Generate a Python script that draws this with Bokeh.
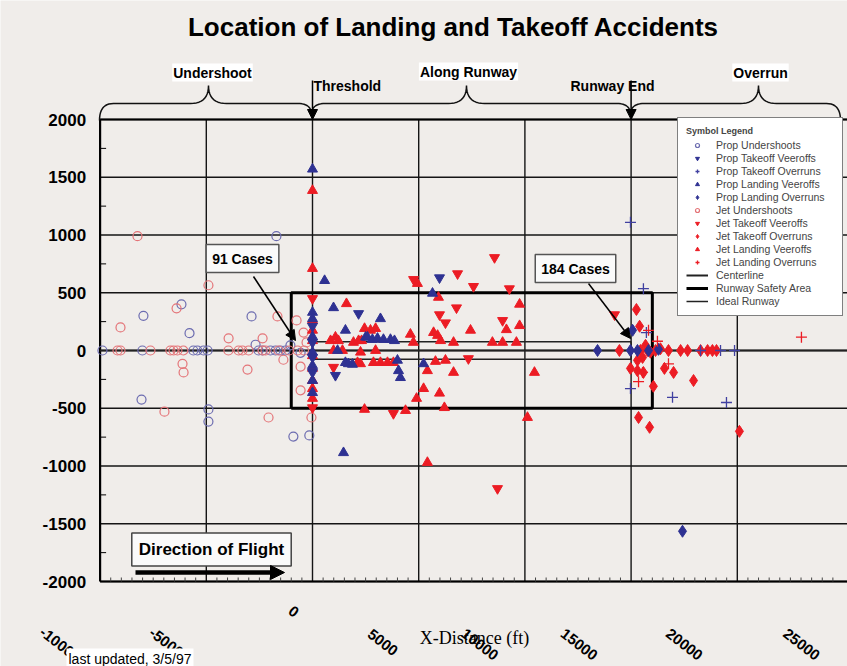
import numpy as np
from bokeh.plotting import figure
from bokeh.models import (Range1d, Label, Arrow, NormalHead, Legend, LegendItem, ColumnDataSource)
from bokeh.core.properties import value
from bokeh.embed import file_html
from bokeh.resources import INLINE

# ---------------- data (feet) ----------------
prop_under_x = [-1700, -7960, -6170, -5790, -2870, -2680, -8050, -4900, -4900, -900, -150, -560, -1040,
                -9890, -8010, -5610, -5420, -5130, -4940, -2540, -2350, -1980, -1740, -1510, -1270]
prop_under_y = [990, 300, 400, 150, 295, 50, -425, -510, -615, -745, -735, -20, 45,
                0, 0, 0, 0, 0, 0, 0, 0, 0, 0, 0, 0]

jet_under_x = [-8240, -4900, -9040, -6400, -3950, -2350, -6120, -6070, -3060, -6970, -2070, -1650, -1370,
               -750, -420, -560, -560, -50, -280,
               -9180, -9040, -7630, -6690, -6540, -6360, -6080, -3960, -3480, -3300, -3010, -2350, -2210,
               -1600, -1100, -700, -400]
jet_under_y = [990, 565, 200, 365, 105, 105, -115, -190, -165, -530, -580, 295, -80,
               260, 155, -140, -345, -580, 70,
               0, 0, 0, 0, 0, 0, 0, 0, 0, 0, 0, 0, 0, 0, 0, 0, 0]

prop_to_veer_x = [5980, 2170, 1080, 0, 0, 0, 0]
prop_to_veer_y = [630, 320, -215, 210, 70, -60, -190]

prop_land_veer_x = [0, 570, 990, 1550, 3200, 2500, 2590, 2820, 3060, 3340, 3670, 3860, 1180, 1550, 1690, 1880,
                    4000, 4050, 4140, 5230, 5650, 1460, 0, 0, 0, 0, 0, 0, 0]
prop_land_veer_y = [1570, 605, 370, 175, 275, 115, 115, 95, 105, 95, 95, 85, 0, -105, -115, -120,
                    -85, -175, -235, -115, 495, -885, 330, 275, 120, -15, -130, -260, -365]

prop_land_over_x = [13420, 14970, 15300, 15820, 16290, 17420, 15070]
prop_land_over_y = [0, 0, 0, 0, 10, -1565, 175]

prop_to_over_x = [14970, 15580, 14970, 16950, 19490, 18270, 19210, 19870, 15720]
prop_to_over_y = [1110, 535, -330, -405, -450, 0, 0, 0, 155]

jet_land_veer_x = [0, 0, 0, 0, 0, 0, 0, 0, 0, 0, 1600, 2450, 2730, 2970, 850, 1080, 1220, 1930, 2170, 2310,
                   4610, 4750, 2260, 2970, 2870, 3200, 3530, 3810, 990, 1410, 2120, 2260, 5700, 5890, 6030,
                   7440, 6640, 8470, 8950, 9600, 9130, 9750, 9750, 5930, 4940, 5790, 6260, 5410, 6640,
                   5230, 4900, 5980, 6210, 2450, 4380, 10450, 10120, 5410]
jet_land_veer_y = [1385, 710, 260, 175, 85, -45, -155, -260, -330, -415, 405, 190, 175, 190, 85, 115, 85, 70, 85, 85,
                   140, 70, -15, 0, -105, -105, -105, -105, 0, 0, -105, -115, 155, 130, 85,
                   175, 70, 70, 70, 70, 180, 215, 400, 460, 580, -95, -85, -175, -190,
                   -330, -415, -370, -495, -510, -520, -190, -580, -970]

jet_to_veer_x = [8570, 6830, 4760, 7580, 9270, 6780, 5980, 6260, 8950, 7340, 3810, 8710, 0, 0, 990, 14220]
jet_to_veer_y = [805, 665, 615, 555, 535, 370, 310, 240, 260, -70, -545, -1195, 450, -495, -145, 310]

jet_to_over_x = [15250, 15400, 14450, 15440, 15770, 16150, 16760, 17330, 17660, 18270, 18600, 18830, 19020,
                 15300, 15540, 14970, 15300, 15580, 16570, 17000, 17940, 16050, 15350, 15870, 20100,
                 15680, 15910, 16380]
jet_to_over_y = [355, 210, 0, 0, 0, 0, 0, 0, 0, 0, 0, 0, 0,
                 -85, -60, -155, -175, -190, -155, -190, -260, -310, -580, -665, -700,
                 45, -15, 15]

jet_land_over_x = [23020, 16240, 16760, 15350, 15540, 15820]
jet_land_over_y = [115, 80, -115, -270, -190, 175]

safety_x = [-1000, 16000]
safety_y = [-500, 500]
runway_x = [0, 15000]
runway_y = [-75, 75]

x_ticks = [-10000, -5000, 0, 5000, 10000, 15000, 20000, 25000]
x_tick_labels = ["-10000", "-5000", "0", "5000", "10000", "15000", "20000", "25000"]
y_ticks = [-2000, -1500, -1000, -500, 0, 500, 1000, 1500, 2000]
y_tick_labels = ["-2000", "-1500", "-1000", "-500", "0", "500", "1000", "1500", "2000"]

# label placement (pixels) of the slanted x tick labels, as scanned
x_label_dx = [-40, -40, -19, -36, -45, -52, -53, -42]
x_label_dy = [2, 0, -31, 0, 2, 2, 2, 2]

# ---------------- geometry ----------------
BG = "#F0EDEA"
BLUE = "#2E3192"
RED = "#EC1C24"
FONT = "Liberation Sans"
XMIN, XMAX, YMIN, YMAX = -10000, 25000, -2000, 2000
W, H = 847, 666
FL, PX5000, FT, FB = 99.6, 106.2, 119, 581   # plot area in canvas pixels


def X(px):
    return XMIN + (px - FL) * 5000.0 / PX5000


def Y(py):
    return YMAX - (py - FT) * (YMAX - YMIN) / (FB - FT)


p = figure(width=W, height=H, output_backend="svg", toolbar_location=None,
           x_range=Range1d(X(0), X(W)), y_range=Range1d(Y(H), Y(0)),
           x_axis_location=None, y_axis_location=None, min_border=0)
p.background_fill_color = BG
p.border_fill_color = BG
p.outline_line_color = None
p.grid.visible = False

XEND = X(W)

# grid lines and frame
gx = [t for t in x_ticks if XMIN < t < XMAX]
p.segment(x0=gx, y0=[YMIN] * len(gx), x1=gx, y1=[YMAX] * len(gx), line_color="#151515", line_width=1.4)
p.segment(x0=[XMIN] * len(y_ticks), y0=y_ticks, x1=[XEND] * len(y_ticks), y1=y_ticks,
          line_color="#151515", line_width=1.4)
p.segment(x0=[XMIN, XMIN, XMIN], y0=[YMIN, YMIN, YMAX], x1=[XMIN, XEND, XEND], y1=[YMAX, YMIN, YMAX],
          line_color="black", line_width=2.2)

# minor ticks
ymin_t = [v for v in range(YMIN + 250, YMAX, 500)]
p.segment(x0=[XMIN] * len(ymin_t), y0=ymin_t, x1=[X(FL + 6)] * len(ymin_t), y1=ymin_t,
          line_color="black", line_width=1)
xmin_t = [v for v in range(XMIN + 500, 25000, 500) if v % 5000 != 0]
p.segment(x0=xmin_t, y0=[YMIN] * len(xmin_t), x1=xmin_t, y1=[Y(FB - 4)] * len(xmin_t),
          line_color="#444444", line_width=1)

# tick labels
p.text(x=[XMIN] * len(y_ticks), y=y_ticks, text=y_tick_labels, x_offset=-14,
       text_font=value(FONT), text_font_size="17px", text_font_style="bold",
       text_align="right", text_baseline="middle", text_color="black")
xl_src = ColumnDataSource(dict(x=x_ticks, y=[Y(642)] * len(x_ticks), text=x_tick_labels,
                               dx=x_label_dx, dy=x_label_dy))
p.text(x="x", y="y", text="text", x_offset="dx", y_offset="dy", angle=-0.66, source=xl_src,
       text_font=value(FONT), text_font_size="15px", text_font_style="bold",
       text_align="center", text_baseline="middle", text_color="black")

# lines
r_center = p.line(x=[XMIN, XEND], y=[0, 0], line_color="#222222", line_width=2)
r_safety = p.line(x=[safety_x[0], safety_x[1], safety_x[1], safety_x[0], safety_x[0]],
                  y=[safety_y[0], safety_y[0], safety_y[1], safety_y[1], safety_y[0]],
                  line_color="black", line_width=3)
r_runway = p.line(x=[runway_x[0], runway_x[1], runway_x[1], runway_x[0], runway_x[0]],
                  y=[runway_y[0], runway_y[0], runway_y[1], runway_y[1], runway_y[0]],
                  line_color="#222222", line_width=1.5)

# markers
r_pu = p.scatter(prop_under_x, prop_under_y, marker="circle", size=9, fill_color=None,
                 line_color="#6C6CB0", line_width=1.2)
r_ju = p.scatter(jet_under_x, jet_under_y, marker="circle", size=9, fill_color=None,
                 line_color="#E47478", line_width=1.2)
r_jlv = p.scatter(jet_land_veer_x, jet_land_veer_y, marker="triangle", size=10,
                  fill_color=RED, line_color=RED)
r_jtv = p.scatter(jet_to_veer_x, jet_to_veer_y, marker="inverted_triangle", size=10,
                  fill_color=RED, line_color=RED)
r_plv = p.scatter(prop_land_veer_x, prop_land_veer_y, marker="triangle", size=10,
                  fill_color=BLUE, line_color=BLUE)
r_ptv = p.scatter(prop_to_veer_x, prop_to_veer_y, marker="inverted_triangle", size=10,
                  fill_color=BLUE, line_color=BLUE)
r_jto = p.scatter(jet_to_over_x, jet_to_over_y, marker="diamond", size=12,
                  fill_color=RED, line_color=RED)
r_plo = p.scatter(prop_land_over_x, prop_land_over_y, marker="diamond", size=12,
                  fill_color=BLUE, line_color=BLUE)
r_pto = p.scatter(prop_to_over_x, prop_to_over_y, marker="cross", size=11,
                  line_color="#4040A0", line_width=1.3)
r_jlo = p.scatter(jet_land_over_x, jet_land_over_y, marker="cross", size=11,
                  line_color=RED, line_width=1.3)

legend = Legend(items=[
    LegendItem(label="Prop Undershoots", renderers=[r_pu]),
    LegendItem(label="Prop Takeoff Veeroffs", renderers=[r_ptv]),
    LegendItem(label="Prop Takeoff Overruns", renderers=[r_pto]),
    LegendItem(label="Prop Landing Veeroffs", renderers=[r_plv]),
    LegendItem(label="Prop Landing Overruns", renderers=[r_plo]),
    LegendItem(label="Jet Undershoots", renderers=[r_ju]),
    LegendItem(label="Jet Takeoff Veeroffs", renderers=[r_jtv]),
    LegendItem(label="Jet Takeoff Overruns", renderers=[r_jto]),
    LegendItem(label="Jet Landing Veeroffs", renderers=[r_jlv]),
    LegendItem(label="Jet Landing Overruns", renderers=[r_jlo]),
    LegendItem(label="Centerline", renderers=[r_center]),
    LegendItem(label="Runway Safety Area", renderers=[r_safety]),
    LegendItem(label="Ideal Runway", renderers=[r_runway]),
], location=(677, H - 316))
legend.title = "Symbol Legend"
legend.title_text_font = FONT
legend.title_text_font_size = "9px"
legend.title_text_font_style = "bold"
legend.title_standoff = 3
legend.label_text_font = FONT
legend.label_text_font_size = "10.5px"
legend.label_height = 10
legend.glyph_height = 10
legend.glyph_width = 22
legend.label_width = 118
legend.spacing = 1
legend.padding = 8
legend.margin = 0
legend.label_standoff = 8
legend.background_fill_color = "white"
legend.background_fill_alpha = 1
legend.border_line_color = "black"
legend.border_line_width = 1.5
p.add_layout(legend)


# ---------------- annotations ----------------
def txt(px, py, text, size, style="bold", align="center", bg=None, border=None, pad=0,
        font=FONT):
    kw = dict(x=X(px), y=Y(py), text=text, text_font=font,
              text_font_size=size, text_font_style=style, text_align=align,
              text_baseline="middle", text_color="black")
    if bg:
        kw["background_fill_color"] = bg
    if border:
        kw["border_line_color"] = border
        kw["border_line_width"] = 1.5
    if pad:
        kw["padding"] = pad
    p.add_layout(Label(**kw))


txt(453, 26, "Location of Landing and Takeoff Accidents", "26px")


# braces above the plot
def qbez(a, c, b, n=12):
    t = np.linspace(0, 1, n)
    return ((1 - t) ** 2 * a[0] + 2 * (1 - t) * t * c[0] + t ** 2 * b[0],
            (1 - t) ** 2 * a[1] + 2 * (1 - t) * t * c[1] + t ** 2 * b[1])


def brace(x0, x1, xm, y_end0=119, y_end1=119, y_bar=103, y_tip=85, r=14, rt=18):
    xs, ys = [], []
    for a, c, b in [((x0, y_end0), (x0, y_bar), (x0 + r, y_bar)),
                    ((xm - rt, y_bar), (xm, y_bar), (xm, y_tip)),
                    ((xm, y_tip), (xm, y_bar), (xm + rt, y_bar)),
                    ((x1 - r, y_bar), (x1, y_bar), (x1, y_end1))]:
        bx, by = qbez(a, c, b)
        xs += list(bx)
        ys += list(by)
    p.line(x=[X(v) for v in xs], y=[Y(v) for v in ys], line_color="#111111", line_width=1.5)


brace(99, 311, 208, y_end0=120, y_end1=114)
brace(311, 630, 466, y_end0=114, y_end1=114)
brace(630, 840, 758, y_end0=114, y_end1=120)

for xv in (0, 15000):
    p.add_layout(Arrow(x_start=xv, y_start=Y(80), x_end=xv, y_end=YMAX,
                       line_color="black", line_width=1.5,
                       end=NormalHead(size=10, fill_color="black", line_color="black")))

txt(212, 72, "Undershoot", "14px", bg="white", pad=1)
txt(468, 71, "Along Runway", "14px", bg="white", pad=1)
txt(760, 72, "Overrun", "14px", bg="white", pad=1)
txt(313, 85, "Threshold", "14px", align="left")
txt(612, 85, "Runway End", "14px")

# case call-outs
p.add_layout(Arrow(x_start=X(253), y_start=Y(276), x_end=X(295), y_end=Y(340),
                   line_color="black", line_width=1.5,
                   end=NormalHead(size=10, fill_color="black", line_color="black")))
p.add_layout(Arrow(x_start=X(588), y_start=Y(283), x_end=X(630), y_end=Y(338),
                   line_color="black", line_width=1.5,
                   end=NormalHead(size=10, fill_color="black", line_color="black")))
txt(242, 258, "91 Cases", "14px", bg="#FAFAFA", border="#555555", pad=6)
txt(575, 268, "184 Cases", "14px", bg="#FAFAFA", border="#555555", pad=6)

# direction of flight
txt(211, 549, "Direction of Flight", "17px", bg="#FAFAFA", border="#444444", pad=7)
p.add_layout(Arrow(x_start=X(135), y_start=Y(572), x_end=X(284), y_end=Y(572),
                   line_color="black", line_width=4.5,
                   end=NormalHead(size=14, fill_color="black", line_color="black")))

txt(474, 637, "X-Distance (ft)", "18px", style="normal", font="Liberation Serif")
txt(66, 658, "last updated, 3/5/97", "14px", style="normal", align="left", bg="white", pad=2)

open("out.html", "w").write(file_html(p, INLINE))
